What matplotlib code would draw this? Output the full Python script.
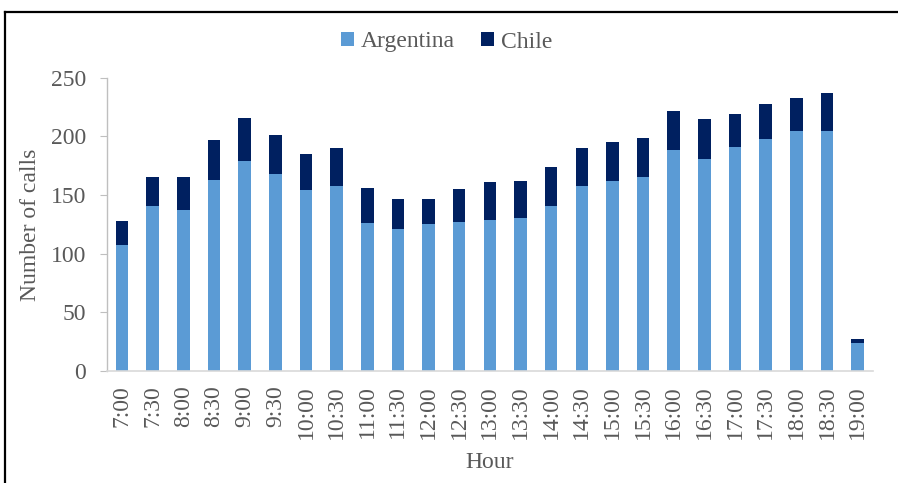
import matplotlib
matplotlib.use("Agg")
import matplotlib.pyplot as plt
from matplotlib.lines import Line2D
import numpy as np

hours = ["7:00", "7:30", "8:00", "8:30", "9:00", "9:30", "10:00", "10:30",
         "11:00", "11:30", "12:00", "12:30", "13:00", "13:30", "14:00", "14:30",
         "15:00", "15:30", "16:00", "16:30", "17:00", "17:30", "18:00", "18:30",
         "19:00"]
argentina = [107, 141, 137, 163, 179, 168, 154, 158,
             126, 121, 125, 127, 129, 130, 141, 158,
             162, 165, 188, 181, 191, 198, 205, 205,
             24]
chile = [21, 24, 28, 34, 37, 33, 31, 32,
         30, 26, 22, 28, 32, 32, 33, 32,
         33, 34, 34, 34, 28, 30, 28, 32,
         3]
y_ticks = [0, 50, 100, 150, 200, 250]

plt.rcParams["font.family"] = ["Liberation Serif", "DejaVu Serif"]
text_color = "#595959"
fs = 17

fig = plt.figure(figsize=(8.98, 4.83), dpi=100)
ax = fig.add_axes([0.1188, 0.2319, 0.8534, 0.6072])

x = np.arange(len(hours))
w = 0.41
ax.bar(x, argentina, width=w, color="#5B9BD5", label="Argentina", zorder=2)
ax.bar(x, chile, width=w, bottom=argentina, color="#002060", label="Chile", zorder=2)

ax.set_xlim(-0.5, len(hours) - 0.5)
ax.set_ylim(0, 250)
ax.set_yticks(y_ticks)
ax.set_xticks(x)
ax.set_xticklabels(hours, rotation=90, va="top", ha="center")

for s in ("top", "right"):
    ax.spines[s].set_visible(False)
ax.spines["left"].set_color("#bfbfbf")
ax.spines["bottom"].set_color("#d9d9d9")
ax.spines["left"].set_linewidth(1.0)
ax.spines["bottom"].set_linewidth(1.2)

ax.tick_params(axis="y", length=4.8, width=0.8, color="#bfbfbf", pad=10,
               labelsize=fs, labelcolor=text_color)
ax.tick_params(axis="x", length=0, pad=10, labelsize=fs, labelcolor=text_color)

fig.text(30 / 898, 0.5355, "Number of calls", rotation=90, ha="center", va="center",
         fontsize=fs, color=text_color)
fig.text(490 / 898, 1 - 463 / 483, "Hour", ha="center", va="center",
         fontsize=fs, color=text_color)

leg = fig.legend(loc="center", bbox_to_anchor=(0.497, 1 - 42 / 483), ncol=2,
                 frameon=False, fontsize=fs, handlelength=0.55, handleheight=0.55,
                 handletextpad=0.3, columnspacing=1.1, borderaxespad=0)
for t in leg.get_texts():
    t.set_color(text_color)

# chart frame: top and left edges
fig.add_artist(Line2D([5 / 898, 1.0], [1 - 12 / 483, 1 - 12 / 483],
                      transform=fig.transFigure, color="black", lw=1.6))
fig.add_artist(Line2D([5 / 898, 5 / 898], [0.0, 1 - 12 / 483],
                      transform=fig.transFigure, color="black", lw=1.6))

fig.savefig("out.png", dpi=100, facecolor="white")
